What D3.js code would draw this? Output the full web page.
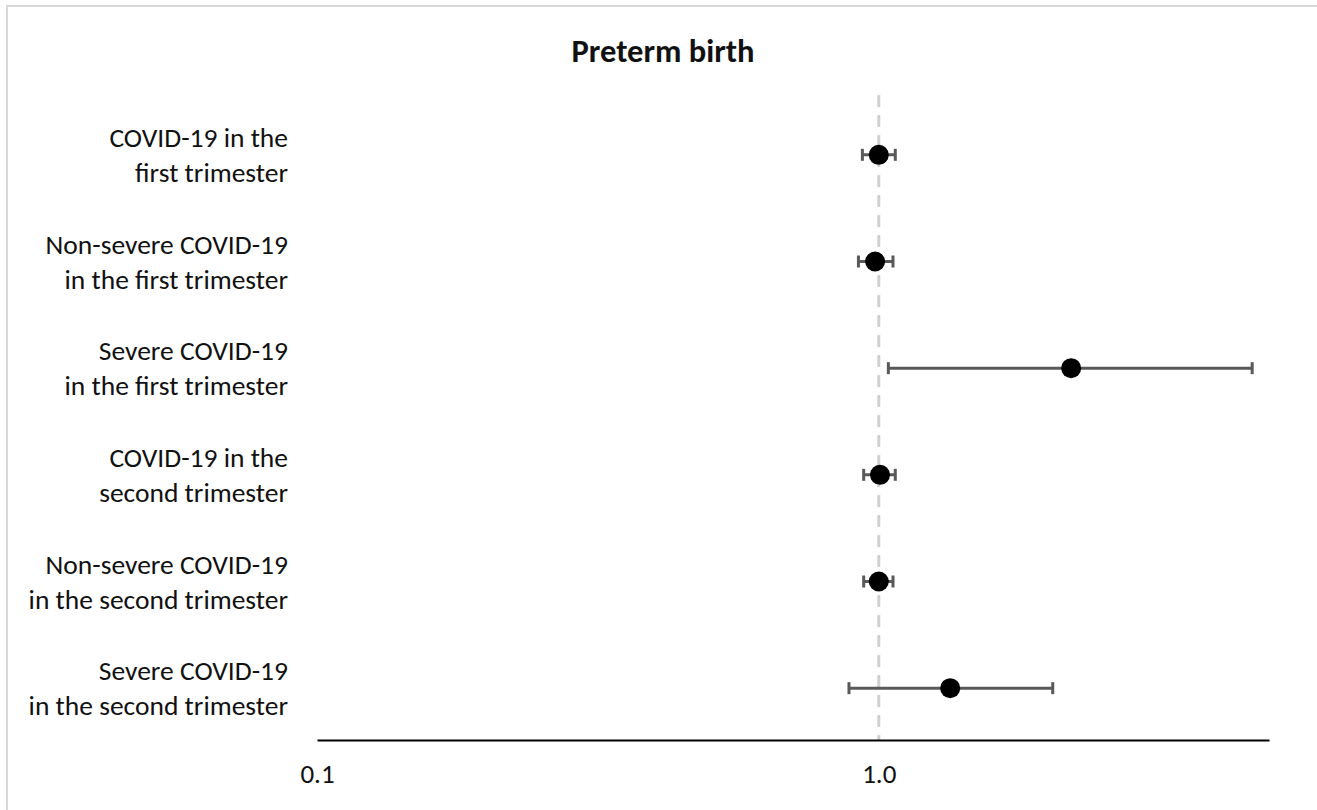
<!DOCTYPE html>
<html>
<head>
<meta charset="utf-8">
<script src="https://cdn.jsdelivr.net/npm/d3@7"></script>
<style>
  html, body { margin: 0; padding: 0; background: #fff; }
  svg { display: block; }
  text { font-family: Carlito, Calibri, Lato, "Open Sans", sans-serif; fill: #111; }
</style>
</head>
<body>
<svg id="chart" width="1317" height="810"></svg>
<script>
// ---- data ----
const categories = [
  ["COVID-19 in the", "first trimester"],
  ["Non-severe COVID-19", "in the first trimester"],
  ["Severe COVID-19", "in the first trimester"],
  ["COVID-19 in the", "second trimester"],
  ["Non-severe COVID-19", "in the second trimester"],
  ["Severe COVID-19", "in the second trimester"]
];
const estimates = [1.00, 0.985, 2.20, 1.005, 1.00, 1.34];
const lowerCI   = [0.935, 0.92, 1.04, 0.94, 0.94, 0.885];
const upperCI   = [1.07, 1.06, 4.62, 1.07, 1.06, 2.04];
const tickValues = [0.1, 1.0];
const tickLabels = ["0.1", "1.0"];
const title = "Preterm birth";

// ---- layout ----
const svg = d3.select("#chart");
const W = 1317, H = 810;

// outer frame
svg.append("rect")
  .attr("x", 7).attr("y", 6).attr("width", W + 10).attr("height", H + 10)
  .attr("fill", "none").attr("stroke", "#d9d9d9").attr("stroke-width", 2);

const x = d3.scaleLog().domain([0.1, 4.95]).range([317, 1269]);
const y = d3.scaleBand().domain(d3.range(categories.length)).range([101.5, 741.5]);
const axisY = 740;

// title
svg.append("text")
  .attr("x", 663).attr("y", 51)
  .attr("text-anchor", "middle").attr("dominant-baseline", "central")
  .attr("font-size", 32.5).attr("font-weight", "bold")
  .attr("fill", "#000")
  .text(title);

// reference dashed line at 1
svg.append("line")
  .attr("x1", x(1)).attr("x2", x(1))
  .attr("y1", 95).attr("y2", axisY)
  .attr("stroke", "#d0d0d0").attr("stroke-width", 3)
  .attr("stroke-dasharray", "12,8");

// x axis
const xAxis = d3.axisBottom(x)
  .tickValues(tickValues)
  .tickFormat((d, i) => tickLabels[i])
  .tickSize(0).tickPadding(24);
const gx = svg.append("g").attr("transform", `translate(0,${axisY})`).call(xAxis);
gx.select(".domain").attr("stroke", "#000").attr("stroke-width", 2.2);
gx.selectAll("text")
  .style("font-family", "Carlito, Calibri, Lato, 'Open Sans', sans-serif")
  .attr("font-size", 27).attr("fill", "#111");

// category labels
const labels = svg.append("g");
categories.forEach((lines, i) => {
  const cy = y(i) + y.bandwidth() / 2;
  const t = labels.append("text")
    .attr("text-anchor", "end")
    .attr("font-size", 27.5)
    .attr("fill", "#111");
  lines.forEach((ln, j) => {
    t.append("tspan")
      .attr("x", 288)
      .attr("y", cy + (j === 0 ? -17.5 : 17.5))
      .attr("dominant-baseline", "central")
      .text(ln);
  });
});

// error bars
const rows = d3.range(categories.length);
const eb = svg.append("g").attr("stroke", "#595959").attr("stroke-width", 3);
rows.forEach(i => {
  const cy = y(i) + y.bandwidth() / 2;
  eb.append("line")
    .attr("x1", x(lowerCI[i])).attr("x2", x(upperCI[i]))
    .attr("y1", cy).attr("y2", cy);
  [lowerCI[i], upperCI[i]].forEach(v => {
    eb.append("line")
      .attr("x1", x(v)).attr("x2", x(v))
      .attr("y1", cy - 6).attr("y2", cy + 6);
  });
});

// points
svg.append("g").selectAll("circle")
  .data(rows)
  .join("circle")
  .attr("cx", i => x(estimates[i]))
  .attr("cy", i => y(i) + y.bandwidth() / 2)
  .attr("r", 10)
  .attr("fill", "#000");
</script>
</body>
</html>
